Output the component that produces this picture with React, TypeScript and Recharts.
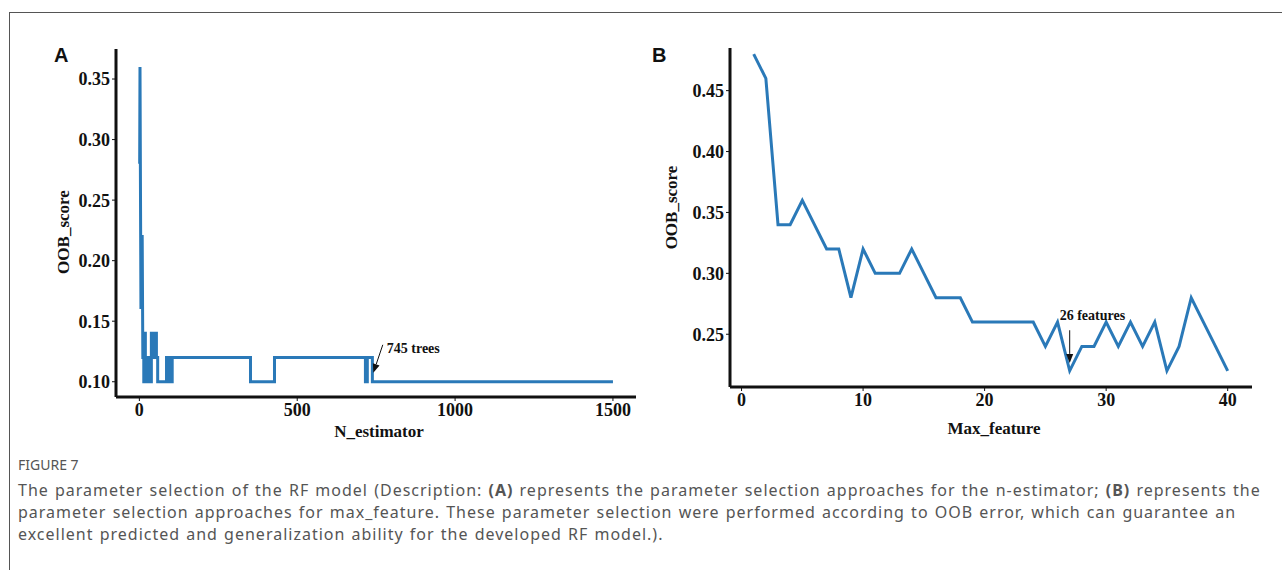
import { LineChart, Line, XAxis, YAxis, ReferenceLine, Label } from 'recharts'

// panel A: OOB score vs number of trees (step-like curve, repeated x = vertical jump)
const nEstimator = [
  1, 2, 5, 7, 9, 11, 13, 14, 14, 16, 16, 19, 19, 22, 22, 26, 26, 30, 30, 34, 34,
  38, 38, 44, 44, 48, 48, 54, 54, 58, 58, 86, 86, 90, 90, 94, 94, 98, 98, 104, 104,
  108, 108, 352, 352, 428, 428, 716, 716, 722, 722, 738, 738, 1500
]
const oobA = [
  0.28, 0.36, 0.16, 0.22, 0.22, 0.12, 0.12, 0.12, 0.10, 0.10, 0.14, 0.14, 0.10, 0.10, 0.12, 0.12, 0.10, 0.10, 0.12, 0.12, 0.10,
  0.10, 0.14, 0.14, 0.12, 0.12, 0.14, 0.14, 0.12, 0.12, 0.10, 0.10, 0.12, 0.12, 0.10, 0.10, 0.12, 0.12, 0.10, 0.10, 0.12,
  0.12, 0.12, 0.12, 0.10, 0.10, 0.12, 0.12, 0.10, 0.10, 0.12, 0.12, 0.10, 0.10
]
const ticksAX = [0, 500, 1000, 1500]
const ticksAY = [0.10, 0.15, 0.20, 0.25, 0.30, 0.35]

// panel B: OOB score vs max_feature
const maxFeature = [
  1, 2, 3, 4, 5, 6, 7, 8, 9, 10, 11, 12, 13, 14, 15, 16, 17, 18, 19, 20,
  21, 22, 23, 24, 25, 26, 27, 28, 29, 30, 31, 32, 33, 34, 35, 36, 37, 38, 39, 40
]
const oobB = [
  0.48, 0.46, 0.34, 0.34, 0.36, 0.34, 0.32, 0.32, 0.28, 0.32, 0.30, 0.30, 0.30, 0.32, 0.30, 0.28, 0.28, 0.28, 0.26, 0.26,
  0.26, 0.26, 0.26, 0.26, 0.24, 0.26, 0.22, 0.24, 0.24, 0.26, 0.24, 0.26, 0.24, 0.26, 0.22, 0.24, 0.28, 0.26, 0.24, 0.22
]
const ticksBX = [0, 10, 20, 30, 40]
const ticksBY = [0.25, 0.30, 0.35, 0.40, 0.45]

const dataA = nEstimator.map((n, i) => ({ n, oob: oobA[i] }))
const dataB = maxFeature.map((m, i) => ({ m, oob: oobB[i] }))

const serif = '"Liberation Serif", "Times New Roman", serif'
const blue = '#2a79b8'
const ink = '#111'

const tickStyle = { fill: ink, fontFamily: serif, fontWeight: 700, fontSize: 18 }

const Arrow = (p: any) => {
  const { x1, y1, x2, y2, text, tx, ty } = p
  const ang = Math.atan2(y2 - y1, x2 - x1)
  const len = 9
  const hw = 3.5
  const bx = x2 - len * Math.cos(ang)
  const by = y2 - len * Math.sin(ang)
  const px = -Math.sin(ang) * hw
  const py = Math.cos(ang) * hw
  return (
    <g>
      <line x1={x1} y1={y1} x2={bx} y2={by} stroke={ink} strokeWidth={1} />
      <polygon points={`${x2},${y2} ${bx + px},${by + py} ${bx - px},${by - py}`} fill={ink} />
      <text x={x1 + tx} y={y1 + ty} fontFamily={serif} fontWeight={700} fontSize={14} fill={ink}>{text}</text>
    </g>
  )
}

const yTitle = (dx: number, dy: number) => (props: any) => {
  const { x, y, height } = props.viewBox
  const cx = x + dx
  const cy = y + height / 2 + dy
  return (
    <text x={cx} y={cy} transform={`rotate(-90 ${cx} ${cy})`} textAnchor="middle" dominantBaseline="central"
      fontFamily={serif} fontWeight={700} fontSize={17} fill={ink}>OOB_score</text>
  )
}

const App = () => {
  return (
    <div style={{ position: 'absolute', left: 0, top: 0, width: 1282, height: 570, background: '#fff', overflow: 'hidden' }}>
      <div style={{ position: 'absolute', left: 9, top: 12, width: 1290, height: 570, borderTop: '1px solid #555', borderLeft: '1px solid #555' }} />

      <div style={{ position: 'absolute', left: 54, top: 44, fontFamily: '"Liberation Sans", Arial, sans-serif', fontWeight: 700, fontSize: 20, color: ink }}>A</div>
      <div style={{ position: 'absolute', left: 652, top: 44, fontFamily: '"Liberation Sans", Arial, sans-serif', fontWeight: 700, fontSize: 20, color: ink }}>B</div>

      <div style={{ position: 'absolute', left: 0, top: 0 }}>
        <LineChart width={660} height={440} data={dataA} margin={{ top: 49, right: 24, bottom: 0, left: 56 }}>
          <XAxis type="number" dataKey="n" domain={[-74, 1573]} ticks={ticksAX} allowDataOverflow height={43}
            axisLine={{ stroke: ink, strokeWidth: 3 }} tickLine={{ stroke: ink }} tickSize={4} tick={tickStyle}>
            <Label value="N_estimator" position="insideBottom" offset={3} dx={3}
              style={{ fontFamily: serif, fontWeight: 700, fontSize: 17, fill: ink }} />
          </XAxis>
          <YAxis type="number" domain={[0.0874, 0.3748]} ticks={ticksAY} allowDataOverflow width={60}
            axisLine={{ stroke: ink, strokeWidth: 3 }} tickLine={{ stroke: ink }} tickSize={4} tick={tickStyle}
            tickFormatter={(v: number) => v.toFixed(2)}>
            <Label content={yTitle(7, 9)} />
          </YAxis>
          <Line type="linear" dataKey="oob" stroke={blue} strokeWidth={3} dot={false} isAnimationActive={false} />
          <ReferenceLine segment={[{ x: 771, y: 0.1305 }, { x: 741, y: 0.1074 }]}
            shape={(p: any) => <Arrow {...p} text="745 trees" tx={4} ty={8} />} />
        </LineChart>
      </div>

      <div style={{ position: 'absolute', left: 640, top: 0 }}>
        <LineChart width={642} height={440} data={dataB} margin={{ top: 48, right: 30, bottom: 0, left: 30 }}>
          <XAxis type="number" dataKey="m" domain={[-0.95, 42]} ticks={ticksBX} allowDataOverflow height={53}
            axisLine={{ stroke: ink, strokeWidth: 3 }} tickLine={{ stroke: ink }} tickSize={4} tick={tickStyle}>
            <Label value="Max_feature" position="insideBottom" offset={6} dx={3}
              style={{ fontFamily: serif, fontWeight: 700, fontSize: 17, fill: ink }} />
          </XAxis>
          <YAxis type="number" domain={[0.2067, 0.485]} ticks={ticksBY} allowDataOverflow width={60}
            axisLine={{ stroke: ink, strokeWidth: 3 }} tickLine={{ stroke: ink }} tickSize={4} tick={tickStyle}
            tickFormatter={(v: number) => v.toFixed(2)}>
            <Label content={yTitle(1, -10)} />
          </YAxis>
          <Line type="linear" dataKey="oob" stroke={blue} strokeWidth={3} dot={false} isAnimationActive={false} />
          <ReferenceLine segment={[{ x: 27, y: 0.2533 }, { x: 27, y: 0.2265 }]}
            shape={(p: any) => <Arrow {...p} text="26 features" tx={-10} ty={-10} />} />
        </LineChart>
      </div>

      <div style={{ position: 'absolute', left: 18, top: 455, fontFamily: '"Noto Sans", "Open Sans", sans-serif', color: '#555' }}>
        <div style={{ fontSize: 14, lineHeight: '20px' }}>FIGURE 7</div>
        <div style={{ fontSize: 16, lineHeight: '22px', letterSpacing: 1, wordSpacing: 1, whiteSpace: 'nowrap', marginTop: 4 }}>
          <div>The parameter selection of the RF model (Description: <b>(A)</b> represents the parameter selection approaches for the n-estimator; <b>(B)</b> represents the</div>
          <div>parameter selection approaches for max_feature. These parameter selection were performed according to OOB error, which can guarantee an</div>
          <div>excellent predicted and generalization ability for the developed RF model.).</div>
        </div>
      </div>
    </div>
  )
}

export default App
